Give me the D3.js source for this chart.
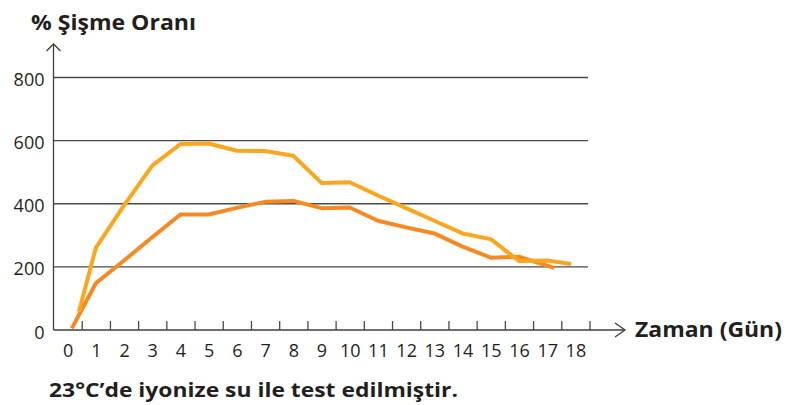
<!DOCTYPE html>
<html>
<head>
<meta charset="utf-8">
<script src="https://cdn.jsdelivr.net/npm/d3@7"></script>
<style>
  html, body { margin: 0; padding: 0; background: #fff; }
  svg { display: block; }
</style>
</head>
<body>
<svg id="chart" width="789" height="405"></svg>
<script>
// Day categories on the horizontal axis
const dayLabels = [0, 1, 2, 3, 4, 5, 6, 7, 8, 9, 10, 11, 12, 13, 14, 15, 16, 17, 18];
// Vertical axis tick values (%)
const yTicks = [0, 200, 400, 600, 800];
// Gridline values
const gridValues = [200, 400, 600, 800];

// Series 1 (light orange): day positions and swelling ratios
const lightDays   = [0.4, 1, 2, 3, 4, 5, 6, 7, 8, 9, 10, 11, 12, 13, 14, 15, 16, 17, 17.85];
const lightValues = [58, 260, 395, 521, 589, 591, 568, 567, 552, 466, 468, 426, 386, 346, 306, 288, 219, 220, 209];

// Series 2 (dark orange): day positions and swelling ratios
const darkDays   = [0.15, 1, 2, 3, 4, 5, 6, 7, 8, 9, 10, 11, 12, 13, 14, 15, 16, 17.25];
const darkValues = [5, 148, 220, 294, 366, 366, 387, 406, 409, 386, 388, 346, 325, 306, 264, 229, 232, 197];

const textColor = "#231f20";
const svg = d3.select("#chart");

const x = d3.scaleLinear().domain([-0.5, 18.5]).range([53.5, 589.5]);
const y = d3.scaleLinear().domain([0, 800]).range([330, 77.5]);

// Horizontal gridlines
svg.append("g")
  .selectAll("line")
  .data(gridValues)
  .join("line")
  .attr("x1", x(-0.5))
  .attr("x2", 588)
  .attr("y1", d => y(d))
  .attr("y2", d => y(d))
  .attr("stroke", "#4a4a4a")
  .attr("stroke-width", 1.3);

// Tick marks between day labels (rising above the axis)
const tickAxis = svg.append("g")
  .attr("transform", `translate(0,${y(0)})`)
  .call(d3.axisBottom(x)
    .tickValues(dayLabels.map(d => d + 0.5))
    .tickSize(-9)
    .tickFormat(""));
tickAxis.select(".domain").remove();
tickAxis.selectAll("line").attr("stroke", "#4a4a4a").attr("stroke-width", 1.3);

// Day labels centred under each band
const xLabelAxis = svg.append("g")
  .attr("transform", `translate(0,${y(0)})`)
  .call(d3.axisBottom(x).tickValues(dayLabels).tickSize(0).tickPadding(0));
xLabelAxis.select(".domain").remove();
xLabelAxis.selectAll("text")
  .attr("y", 0)
  .attr("dy", 27)
  .attr("fill", textColor)
  .style("font-family", "'Open Sans', sans-serif")
  .style("font-size", "18px");

// Vertical axis labels
const yLabelAxis = svg.append("g")
  .attr("transform", `translate(${x(-0.5)},0)`)
  .call(d3.axisLeft(y).tickValues(yTicks).tickSize(0).tickPadding(9));
yLabelAxis.select(".domain").remove();
yLabelAxis.selectAll("text")
  .attr("dy", "0.45em")
  .attr("fill", textColor)
  .style("font-family", "'Open Sans', sans-serif")
  .style("font-size", "18px");

// Axis lines with open arrowheads
const axisColor = "#3f3f3f";
svg.append("line")
  .attr("x1", x(-0.5)).attr("x2", x(-0.5))
  .attr("y1", 44).attr("y2", y(0))
  .attr("stroke", axisColor).attr("stroke-width", 1.3);
svg.append("path")
  .attr("d", `M${x(-0.5) - 7},${51} L${x(-0.5)},${44} L${x(-0.5) + 7},${51}`)
  .attr("fill", "none").attr("stroke", axisColor).attr("stroke-width", 1.3);
svg.append("line")
  .attr("x1", x(-0.5)).attr("x2", 625)
  .attr("y1", y(0)).attr("y2", y(0))
  .attr("stroke", axisColor).attr("stroke-width", 1.3);
svg.append("path")
  .attr("d", `M${615},${y(0) - 7} L${625},${y(0)} L${615},${y(0) + 7}`)
  .attr("fill", "none").attr("stroke", axisColor).attr("stroke-width", 1.3);

// Data lines
const line = d3.line().x(d => x(d[0])).y(d => y(d[1]));

svg.append("path")
  .datum(d3.zip(darkDays, darkValues))
  .attr("d", line)
  .attr("fill", "none")
  .attr("stroke", "#f58a23")
  .attr("stroke-width", 4)
  .attr("stroke-linejoin", "round");

svg.append("path")
  .datum(d3.zip(lightDays, lightValues))
  .attr("d", line)
  .attr("fill", "none")
  .attr("stroke", "#faa61f")
  .attr("stroke-width", 4)
  .attr("stroke-linejoin", "round");

// Titles and note (bold, fitted to their set widths)
const boldFont = "'Open Sans', 'Noto Sans', sans-serif";
function boldText(tx, ty, size, width, str) {
  svg.append("text")
    .attr("x", tx).attr("y", ty)
    .attr("fill", textColor)
    .attr("textLength", width)
    .attr("lengthAdjust", "spacingAndGlyphs")
    .style("font-family", boldFont).style("font-weight", 700).style("font-size", size + "px")
    .text(str);
}
boldText(31, 29.5, 22, 165, "% Şişme Oranı");
boldText(635, 336.5, 22, 147, "Zaman (Gün)");
boldText(49, 396.5, 20, 409, "23°C’de iyonize su ile test edilmiştir.");
</script>
</body>
</html>
